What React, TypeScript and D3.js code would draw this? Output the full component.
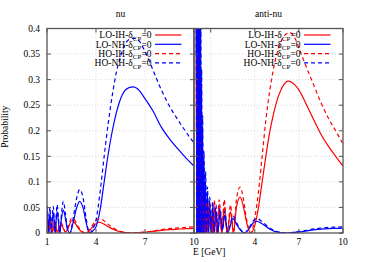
import React from "react";
import * as d3 from "d3";

type Pt = [number, number];

// nu panel, [E GeV, probability]
const nuLoIH: Pt[] = [
  [1.0, 0.035], [1.04, 0.022], [1.09, 0.004], [1.14, 0.006], [1.2, 0.02], [1.26, 0.008], [1.32, 0.001],
  [1.4, 0.012], [1.48, 0.02], [1.56, 0.01], [1.64, 0.001], [1.74, 0.008], [1.86, 0.016], [1.98, 0.01],
  [2.12, 0.002], [2.3, 0.01], [2.5, 0.024], [2.7, 0.02], [2.9, 0.01], [3.15, 0.002], [3.4, 0.0],
  [3.65, 0.006], [3.9, 0.016], [4.15, 0.021], [4.4, 0.019], [4.7, 0.013], [5.0, 0.008], [5.4, 0.003],
  [5.8, 0.001], [6.2, 0.0], [6.6, 0.0005], [7.0, 0.0015], [7.5, 0.003], [8.0, 0.005], [8.5, 0.0065],
  [9.0, 0.0075], [9.5, 0.0085], [10, 0.009],
];
const nuLoNH: Pt[] = [
  [1.0, 0.042], [1.02, 0.045], [1.06, 0.025], [1.1, 0.0], [1.14, 0.02], [1.18, 0.038], [1.22, 0.025],
  [1.27, 0.0], [1.32, 0.022], [1.38, 0.04], [1.44, 0.022], [1.5, 0.0], [1.56, 0.025], [1.62, 0.042],
  [1.7, 0.022], [1.78, 0.0], [1.88, 0.027], [2.0, 0.045], [2.12, 0.03], [2.25, 0.008], [2.4, 0.0],
  [2.6, 0.02], [2.8, 0.048], [3.0, 0.062], [3.2, 0.05], [3.4, 0.02], [3.6, 0.0], [3.8, 0.004],
  [4.0, 0.012], [4.25, 0.045], [4.5, 0.1], [4.75, 0.155], [5.0, 0.2], [5.25, 0.236], [5.5, 0.262],
  [5.75, 0.278], [6.0, 0.284], [6.28, 0.286], [6.5, 0.283], [7.0, 0.263], [7.5, 0.238], [8.0, 0.207],
  [8.5, 0.184], [9.0, 0.165], [9.5, 0.147], [10, 0.131],
];
const nuHoIH: Pt[] = [
  [1.0, 0.04], [1.04, 0.026], [1.09, 0.005], [1.14, 0.008], [1.2, 0.025], [1.26, 0.01], [1.32, 0.001],
  [1.4, 0.015], [1.48, 0.025], [1.56, 0.012], [1.64, 0.001], [1.74, 0.01], [1.86, 0.02], [1.98, 0.013],
  [2.12, 0.002], [2.3, 0.013], [2.5, 0.029], [2.7, 0.025], [2.9, 0.013], [3.15, 0.003], [3.4, 0.0],
  [3.65, 0.008], [3.9, 0.021], [4.15, 0.028], [4.4, 0.026], [4.7, 0.018], [5.0, 0.011], [5.4, 0.004],
  [5.8, 0.001], [6.2, 0.0], [6.6, 0.0008], [7.0, 0.002], [7.5, 0.004], [8.0, 0.0065], [8.5, 0.0085],
  [9.0, 0.01], [9.5, 0.011], [10, 0.012],
];
const nuHoNH: Pt[] = [
  [1.0, 0.05], [1.02, 0.052], [1.06, 0.03], [1.1, 0.0], [1.14, 0.028], [1.18, 0.05], [1.22, 0.032],
  [1.27, 0.0], [1.32, 0.03], [1.38, 0.052], [1.44, 0.03], [1.5, 0.0], [1.56, 0.033], [1.62, 0.055],
  [1.7, 0.03], [1.78, 0.0], [1.88, 0.036], [2.0, 0.062], [2.12, 0.04], [2.25, 0.01], [2.4, 0.0],
  [2.6, 0.028], [2.8, 0.066], [3.0, 0.085], [3.2, 0.07], [3.4, 0.028], [3.6, 0.0], [3.8, 0.008],
  [4.0, 0.025], [4.25, 0.08], [4.5, 0.15], [4.75, 0.215], [5.0, 0.27], [5.25, 0.315], [5.5, 0.345],
  [5.75, 0.367], [6.0, 0.378], [6.29, 0.381], [6.6, 0.377], [7.0, 0.355], [7.5, 0.318], [8.0, 0.28],
  [8.5, 0.248], [9.0, 0.222], [9.5, 0.198], [10, 0.176],
];

// anti-nu panel
const antiLoIH: Pt[] = [
  [0.02, 0.2], [0.035, 0.6], [0.05, 0.0], [0.07, 0.6], [0.09, 0.0], [0.11, 0.6], [0.13, 0.0],
  [0.15, 0.55], [0.17, 0.0], [0.2, 0.45], [0.23, 0.0], [0.26, 0.3], [0.29, 0.0], [0.33, 0.15],
  [0.37, 0.0], [0.42, 0.07], [0.48, 0.0], [0.55, 0.05], [0.63, 0.0], [0.72, 0.048], [0.8, 0.0],
  [0.9, 0.05], [1.0, 0.0], [1.07, 0.03], [1.12, 0.0], [1.24, 0.052], [1.41, 0.0], [1.58, 0.052],
  [1.75, 0.0], [1.92, 0.05], [2.12, 0.0], [2.35, 0.042], [2.55, 0.0], [2.75, 0.05], [3.0, 0.07],
  [3.2, 0.055], [3.45, 0.02], [3.72, 0.0], [4.0, 0.015], [4.25, 0.05], [4.5, 0.1], [4.75, 0.15],
  [5.0, 0.195], [5.25, 0.23], [5.5, 0.258], [5.75, 0.278], [6.0, 0.291], [6.25, 0.297], [6.5, 0.295],
  [7.0, 0.28], [7.5, 0.252], [8.0, 0.222], [8.5, 0.193], [9.0, 0.17], [9.5, 0.15], [10, 0.131],
];
const antiLoNH: Pt[] = [
  [0.02, 0.3], [0.03, 0.7], [0.045, 0.0], [0.06, 0.7], [0.075, 0.0], [0.09, 0.7], [0.105, 0.0],
  [0.12, 0.7], [0.135, 0.0], [0.15, 0.7], [0.165, 0.0], [0.18, 0.7], [0.2, 0.0], [0.22, 0.65],
  [0.24, 0.0], [0.265, 0.55], [0.29, 0.0], [0.32, 0.4], [0.35, 0.0], [0.38, 0.28], [0.41, 0.0],
  [0.45, 0.2], [0.49, 0.0], [0.54, 0.14], [0.59, 0.0], [0.65, 0.1], [0.71, 0.0], [0.78, 0.075],
  [0.85, 0.0], [0.93, 0.06], [1.02, 0.0], [1.12, 0.05], [1.22, 0.0], [1.35, 0.045], [1.48, 0.0],
  [1.64, 0.04], [1.8, 0.005], [1.95, 0.035], [2.15, 0.0], [2.5, 0.028], [2.8, 0.015], [3.05, 0.005],
  [3.3, 0.0], [3.6, 0.008], [3.9, 0.02], [4.15, 0.023], [4.5, 0.018], [5.0, 0.008], [5.5, 0.002],
  [6.2, 0.0], [7.0, 0.002], [7.5, 0.004], [8.0, 0.006], [8.5, 0.0075], [9.0, 0.0085], [9.5, 0.009],
  [10, 0.0095],
];
const antiHoIH: Pt[] = [
  [0.02, 0.25], [0.04, 0.6], [0.055, 0.0], [0.075, 0.6], [0.095, 0.0], [0.115, 0.6], [0.135, 0.0],
  [0.155, 0.6], [0.175, 0.0], [0.205, 0.5], [0.235, 0.0], [0.265, 0.35], [0.295, 0.0], [0.335, 0.18],
  [0.375, 0.0], [0.42, 0.085], [0.48, 0.0], [0.55, 0.062], [0.63, 0.0], [0.72, 0.06], [0.8, 0.0],
  [0.9, 0.062], [1.0, 0.0], [1.07, 0.035], [1.12, 0.0], [1.24, 0.064], [1.41, 0.0], [1.58, 0.065],
  [1.75, 0.0], [1.92, 0.065], [2.12, 0.0], [2.35, 0.055], [2.55, 0.0], [2.75, 0.065], [3.0, 0.09],
  [3.2, 0.07], [3.45, 0.025], [3.72, 0.0], [4.0, 0.03], [4.25, 0.08], [4.5, 0.15], [4.75, 0.22],
  [5.0, 0.275], [5.25, 0.318], [5.5, 0.35], [5.75, 0.372], [6.0, 0.386], [6.39, 0.392], [6.7, 0.383],
  [7.0, 0.362], [7.5, 0.325], [8.0, 0.29], [8.5, 0.255], [9.0, 0.225], [9.5, 0.2], [10, 0.174],
];
const antiHoNH: Pt[] = [
  [0.02, 0.35], [0.032, 0.7], [0.047, 0.0], [0.062, 0.7], [0.077, 0.0], [0.092, 0.7], [0.107, 0.0],
  [0.122, 0.7], [0.137, 0.0], [0.152, 0.7], [0.167, 0.0], [0.183, 0.7], [0.203, 0.0], [0.225, 0.7],
  [0.245, 0.0], [0.27, 0.6], [0.295, 0.0], [0.325, 0.45], [0.355, 0.0], [0.385, 0.32], [0.415, 0.0],
  [0.455, 0.23], [0.495, 0.0], [0.545, 0.16], [0.595, 0.0], [0.655, 0.12], [0.715, 0.0], [0.785, 0.09],
  [0.855, 0.0], [0.935, 0.07], [1.025, 0.0], [1.125, 0.06], [1.225, 0.0], [1.355, 0.055], [1.485, 0.0],
  [1.645, 0.048], [1.8, 0.006], [1.96, 0.042], [2.15, 0.0], [2.52, 0.033], [2.8, 0.018], [3.05, 0.006],
  [3.3, 0.0], [3.6, 0.01], [3.9, 0.024], [4.15, 0.028], [4.5, 0.022], [5.0, 0.01], [5.5, 0.003],
  [6.2, 0.0], [7.0, 0.003], [7.5, 0.005], [8.0, 0.008], [8.5, 0.0095], [9.0, 0.011], [9.5, 0.0115],
  [10, 0.012],
];

const seriesNames = ["LO-IH-", "LO-NH-", "HO-IH-", "HO-NH-"];
const seriesColors = ["#ff0000", "#0000ff", "#ff0000", "#0000ff"];
const seriesDashed = [false, false, true, true];

const yTicks = [0, 0.05, 0.1, 0.15, 0.2, 0.25, 0.3, 0.35, 0.4];
const yTickLabels = ["0", "0.05", "0.1", "0.15", "0.2", "0.25", "0.3", "0.35", "0.4"];
const xGridTicks = [1, 4, 7, 10];
const nuXLabels = ["1", "4", "7", "10"];
const antiXLabels = ["", "4", "7", "10"];

const W = 374;
const H = 262;
const top = 28.5;
const bottom = 233;
const font = "'Liberation Serif', 'Times New Roman', serif";

const y = d3.scaleLinear().domain([0, 0.4]).range([bottom, top]);

interface PanelProps {
  id: string;
  title: string;
  x: d3.ScaleLinear<number, number>;
  left: number;
  right: number;
  series: Pt[][];
  xLabels: string[];
  legendX: number;
}

const Panel = ({ id, title, x, left, right, series, xLabels, legendX }: PanelProps) => {
  const line = d3
    .line<Pt>()
    .x((d) => x(d[0]))
    .y((d) => y(d[1]))
    .curve(d3.curveMonotoneX);

  return (
    <g>
      <defs>
        <clipPath id={id}>
          <rect x={left} y={top} width={right - left} height={bottom - top} />
        </clipPath>
      </defs>
      {/* grid */}
      {yTicks.slice(1, -1).map((t) => (
        <line key={"gy" + t} x1={left} x2={right} y1={y(t)} y2={y(t)}
          stroke="#c8c8c8" strokeWidth={0.7} strokeDasharray="1,2" />
      ))}
      {xGridTicks.filter((t) => x(t) > left + 1 && x(t) < right - 1).map((t) => (
        <line key={"gx" + t} x1={x(t)} x2={x(t)} y1={top} y2={bottom}
          stroke="#c8c8c8" strokeWidth={0.7} strokeDasharray="1,2" />
      ))}
      {/* curves */}
      <g clipPath={`url(#${id})`}>
        {series.map((s, i) => (
          <path key={i} d={line(s) || ""} fill="none" stroke={seriesColors[i]}
            strokeWidth={1.2} strokeDasharray={seriesDashed[i] ? "4,3" : undefined} />
        ))}
      </g>
      {/* ticks */}
      {yTicks.map((t) => (
        <g key={"ty" + t}>
          <line x1={left} x2={left + 4} y1={y(t)} y2={y(t)} stroke="#555" />
          <line x1={right - 4} x2={right} y1={y(t)} y2={y(t)} stroke="#555" />
        </g>
      ))}
      {xGridTicks.map((t) => (
        <g key={"tx" + t}>
          <line x1={x(t)} x2={x(t)} y1={bottom} y2={bottom - 4} stroke="#555" />
          <line x1={x(t)} x2={x(t)} y1={top} y2={top + 4} stroke="#555" />
        </g>
      ))}
      {xGridTicks.map((t, i) => (
        <text key={"lx" + t} x={x(t)} y={bottom + 11.5} textAnchor="middle"
          fontSize={9.5} fontFamily={font}>{xLabels[i]}</text>
      ))}
      <rect x={left} y={top} width={right - left} height={bottom - top}
        fill="none" stroke="#555" strokeWidth={1.3} />
      <text x={(left + right) / 2} y={17} textAnchor="middle" fontSize={9.5} fontFamily={font}>{title}</text>
      {/* legend */}
      {seriesNames.map((n, i) => {
        const ly = 35 + i * 9.3;
        return (
          <g key={"lg" + i}>
            <text x={legendX} y={ly + 3.3} textAnchor="end" fontSize={9.5} fontFamily={font}>
              {n}δ<tspan fontSize={7} dy={2.5}>CP</tspan><tspan dy={-2.5}>=0</tspan>
            </text>
            <line x1={legendX + 3.5} x2={legendX + 30} y1={ly} y2={ly} stroke={seriesColors[i]}
              strokeWidth={1.2} strokeDasharray={seriesDashed[i] ? "4,3" : undefined} />
          </g>
        );
      })}
    </g>
  );
};

export default function App() {
  const xNu = d3.scaleLinear().domain([1, 10]).range([47, 194]);
  const xAnti = d3.scaleLinear().domain([-0.136, 10]).range([194, 343]);

  return (
    <svg width={W} height={H} style={{ position: "absolute", left: 0, top: 0, background: "#fff" }}>
      <rect width={W} height={H} fill="#fff" />
      {yTicks.map((t, i) => (
        <text key={"yl" + t} x={40} y={y(t) + 3.3} textAnchor="end" fontSize={9.5} fontFamily={font}>
          {yTickLabels[i]}
        </text>
      ))}
      <text transform={`translate(8,${(top + bottom) / 2 - 4}) rotate(-90)`} textAnchor="middle"
        fontSize={9.5} fontFamily={font}>Probability</text>
      <Panel id="clipNu" title="nu" x={xNu} left={47} right={194}
        series={[nuLoIH, nuLoNH, nuHoIH, nuHoNH]} xLabels={nuXLabels} legendX={151.5} />
      <Panel id="clipAnti" title="anti-nu" x={xAnti} left={194} right={343}
        series={[antiLoIH, antiLoNH, antiHoIH, antiHoNH]} xLabels={antiXLabels} legendX={300.5} />
      <text x={193} y={255} fontSize={9.5} fontFamily={font}>E [GeV]</text>
    </svg>
  );
}
